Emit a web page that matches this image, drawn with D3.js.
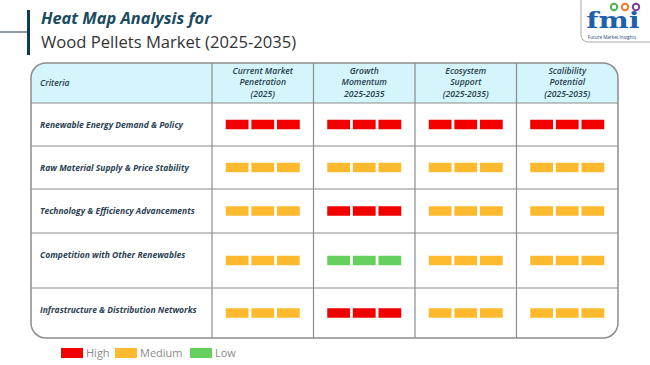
<!DOCTYPE html>
<html>
<head>
<meta charset="utf-8">
<script src="https://cdn.jsdelivr.net/npm/d3@7"></script>
<style>
  body { margin: 0; background: #fff; }
  svg { display: block; font-family: "Open Sans", sans-serif; }
</style>
</head>
<body>
<script>
// data
var criteria = [
    'Renewable Energy Demand & Policy',
    'Raw Material Supply & Price Stability',
    'Technology & Efficiency Advancements',
    'Competition with Other Renewables',
    'Infrastructure & Distribution Networks'
];
var columns = ['penetration', 'growth', 'ecosystem', 'scalability'];
var columnLabels = [
    ['Current Market', 'Penetration', '(2025)'],
    ['Growth', 'Momentum', '2025-2035'],
    ['Ecosystem', 'Support', '(2025-2035)'],
    ['Scalibility', 'Potential', '(2025-2035)']
];
var levels = ['High', 'Medium', 'Low'];
var ratings = [
    ['High', 'High', 'High', 'High'],
    ['Medium', 'Medium', 'Medium', 'Medium'],
    ['Medium', 'High', 'Medium', 'Medium'],
    ['Medium', 'Low', 'Medium', 'Medium'],
    ['Medium', 'High', 'Medium', 'Medium']
];

// layout
var W = 650, H = 365;
var tLeft = 31, tRight = 618, tTop = 63, headH = 40;
var firstColRight = 212;
var rowHeights = [43, 43, 44, 55, 50];

var svg = d3.select('body').append('svg')
    .attr('width', W)
    .attr('height', H);

var color = d3.scaleOrdinal()
    .domain(levels)
    .range(['#f20000', '#fdba2f', '#66d05f']);

var x = d3.scaleBand()
    .domain(columns)
    .range([firstColRight, tRight]);

// row edges from the heights
var rowTop = [];
var acc = tTop + headH;
rowHeights.forEach(function (h) { rowTop.push(acc); acc += h; });
var tBottom = acc;

var y = d3.scaleOrdinal().domain(criteria).range(rowTop);

// title
svg.append('line')
    .attr('x1', 0).attr('x2', 28)
    .attr('y1', 32).attr('y2', 32)
    .style('stroke', '#1b3a4b')
    .style('stroke-width', 1);
svg.append('line')
    .attr('x1', 28.5).attr('x2', 28.5)
    .attr('y1', 10).attr('y2', 55)
    .style('stroke', '#133a52')
    .style('stroke-width', 3);
svg.append('text')
    .attr('x', 41).attr('y', 24)
    .style('font-size', '16.4px')
    .style('font-weight', 700)
    .style('font-style', 'italic')
    .style('fill', '#1a4b5f')
    .text('Heat Map Analysis for');
svg.append('text')
    .attr('x', 41).attr('y', 48)
    .style('font-size', '16.6px')
    .style('fill', '#333')
    .text('Wood Pellets Market (2025-2035)');

// logo
var logo = svg.append('g');
logo.append('path')
    .attr('d', 'M581,-2 L581,34 Q581,42 589,42 L652,42 L652,-2')
    .style('fill', '#fff')
    .style('stroke', '#aaa')
    .style('stroke-width', 1);
logo.append('text')
    .attr('transform', 'translate(613,28) scale(1.3,1)')
    .attr('text-anchor', 'middle')
    .style('font-family', '"DejaVu Serif", serif')
    .style('font-weight', 700)
    .style('font-size', '22px')
    .style('fill', '#1f5fae')
    .text('fmi');
[['#4cb84a', 614], ['#f07a2a', 625], ['#7b3f98', 636]].forEach(function (d) {
    logo.append('circle')
        .attr('cx', d[1]).attr('cy', 7).attr('r', 3.2)
        .style('fill', 'none')
        .style('stroke', d[0])
        .style('stroke-width', 2);
});
logo.append('text')
    .attr('x', 612).attr('y', 38.5)
    .attr('text-anchor', 'middle')
    .style('font-size', '4.6px')
    .style('fill', '#1f3f6e')
    .text('Future Market Insights');

// table frame
var defs = svg.append('defs');
var rr = 15;
defs.append('clipPath').attr('id', 'tclip')
    .append('rect')
    .attr('x', tLeft).attr('y', tTop)
    .attr('width', tRight - tLeft).attr('height', tBottom - tTop)
    .attr('rx', rr);

var tbl = svg.append('g').attr('clip-path', 'url(#tclip)');
tbl.append('rect')
    .attr('x', tLeft).attr('y', tTop)
    .attr('width', tRight - tLeft).attr('height', headH)
    .style('fill', '#d4f5fc');

// grid lines
rowTop.forEach(function (t) {
    tbl.append('line')
        .attr('x1', tLeft).attr('x2', tRight)
        .attr('y1', t).attr('y2', t)
        .style('stroke', '#8c8c8c')
        .style('stroke-width', 1.2);
});
columns.forEach(function (c) {
    tbl.append('line')
        .attr('x1', x(c)).attr('x2', x(c))
        .attr('y1', tTop).attr('y2', tBottom)
        .style('stroke', '#8c8c8c')
        .style('stroke-width', 1.2);
});

svg.append('rect')
    .attr('x', tLeft).attr('y', tTop)
    .attr('width', tRight - tLeft).attr('height', tBottom - tTop)
    .attr('rx', rr)
    .style('fill', 'none')
    .style('stroke', '#8c8c8c')
    .style('stroke-width', 1.5);

// header text
svg.append('text')
    .attr('x', 40).attr('y', tTop + headH / 2 + 3)
    .style('font-size', '8.6px')
    .style('font-style', 'italic')
    .style('font-weight', 600)
    .style('fill', '#243d4d')
    .text('Criteria');

columns.forEach(function (c, i) {
    var t = svg.append('text')
        .attr('x', x(c) + x.bandwidth() / 2)
        .attr('y', tTop + 10.5)
        .attr('text-anchor', 'middle')
        .style('font-size', '8.6px')
        .style('font-style', 'italic')
        .style('font-weight', 600)
        .style('fill', '#243d4d');
    t.selectAll('tspan')
        .data(columnLabels[i])
        .enter()
        .append('tspan')
        .attr('x', x(c) + x.bandwidth() / 2)
        .attr('dy', function (d, j) { return j === 0 ? 0 : 11.5; })
        .text(function (d) { return d; });
});

// row labels
svg.selectAll('.rowlabel')
    .data(criteria)
    .enter()
    .append('text')
    .attr('class', 'rowlabel')
    .attr('x', 40)
    .attr('y', function (d) { return y(d) + 25; })
    .style('font-size', '8.5px')
    .style('font-style', 'italic')
    .style('font-weight', 700)
    .style('fill', '#2b4252')
    .text(function (d) { return d; });

// bars: three blocks per cell
var seg = d3.scaleBand()
    .domain([0, 1, 2])
    .range([-37, 37])
    .paddingInner(0.11);
var barH = 9.5;

var cells = [];
ratings.forEach(function (row, r) {
    row.forEach(function (lv, c) {
        cells.push({ row: criteria[r], col: columns[c], level: lv, h: rowHeights[r] });
    });
});

var cellG = svg.selectAll('.cell')
    .data(cells)
    .enter()
    .append('g')
    .attr('class', 'cell')
    .attr('transform', function (d) {
        return 'translate(' + (x(d.col) + x.bandwidth() / 2) + ',' + (y(d.row) + d.h / 2) + ')';
    });

cellG.selectAll('rect')
    .data(function (d) { return [0, 1, 2].map(function (k) { return { k: k, level: d.level }; }); })
    .enter()
    .append('rect')
    .attr('x', function (d) { return seg(d.k); })
    .attr('y', -barH / 2)
    .attr('width', seg.bandwidth())
    .attr('height', barH)
    .style('fill', function (d) { return color(d.level); });

// legend
var lg = svg.append('g').attr('transform', 'translate(61,348)');
var lx = d3.scaleOrdinal().domain(levels).range([0, 54, 129]);
var items = lg.selectAll('g')
    .data(levels)
    .enter()
    .append('g')
    .attr('transform', function (d) { return 'translate(' + lx(d) + ',0)'; });
items.append('rect')
    .attr('width', 22).attr('height', 10)
    .style('fill', function (d) { return color(d); });
items.append('text')
    .attr('x', 25).attr('y', 9)
    .style('font-size', '11px')
    .style('fill', '#8a8a8a')
    .text(function (d) { return d; });
</script>
</body>
</html>
